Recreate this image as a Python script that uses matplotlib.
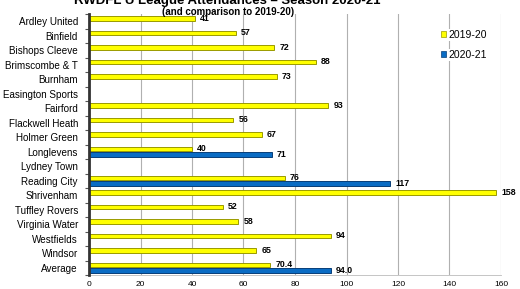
import matplotlib
matplotlib.use("Agg")
import matplotlib.pyplot as plt
import numpy as np
from matplotlib.patches import Patch

plt.rcParams['font.family'] = ['Liberation Sans', 'DejaVu Sans']

clubs = ["Ardley United", "Binfield", "Bishops Cleeve", "Brimscombe & T", "Burnham",
         "Easington Sports", "Fairford", "Flackwell Heath", "Holmer Green", "Longlevens",
         "Lydney Town", "Reading City", "Shrivenham", "Tuffley Rovers", "Virginia Water",
         "Westfields", "Windsor", "Average"]
season_1920 = [41, 57, 72, 88, 73, None, 93, 56, 67, 40, None, 76, 158, 52, 58, 94, 65, 70.4]
season_2021 = [None, None, None, None, None, None, None, None, None, 71, None, 117, None,
               None, None, None, None, 94.0]
xticks = [0, 20, 40, 60, 80, 100, 120, 140, 160]

fig = plt.figure(figsize=(5.2, 2.89), dpi=100)
ax = fig.add_axes([89/520, 1-275/289, (501-89)/520, (275-14)/289])

n = len(clubs)
y = np.arange(n)
h = 0.34
off_y, off_b = -0.19, 0.22

for i, v in enumerate(season_1920):
    if v is None:
        continue
    ax.barh(i + off_y, v, height=h, color='#FFFF00', edgecolor='#9A9A00', linewidth=0.7, zorder=3)
    lab = f"{v:.1f}" if i == n - 1 else f"{v:g}"
    ax.text(v + 2, i + off_y, lab, fontsize=6.3, fontweight='bold', va='center', ha='left', zorder=4)
for i, v in enumerate(season_2021):
    if v is None:
        continue
    ax.barh(i + off_b, v, height=h, color='#0A6CC4', edgecolor='#083E78', linewidth=0.7, zorder=3)
    lab = f"{v:.1f}" if i == n - 1 else f"{v:g}"
    ax.text(v + 2, i + off_b, lab, fontsize=6.3, fontweight='bold', va='center', ha='left', zorder=4)

ax.set_ylim(n - 0.5, -0.5)
ax.set_xlim(0, 160)
ax.set_xticks(xticks)
ax.set_xticklabels([str(t) for t in xticks], fontsize=6)
ax.set_yticks(y)
ax.set_yticklabels(clubs, fontsize=7.1)
ax.set_yticks(np.arange(n + 1) - 0.5, minor=True)
ax.tick_params(axis='y', which='major', length=0, pad=8)
ax.tick_params(axis='y', which='minor', length=3, width=0.8, color='#555555', direction='out')
ax.tick_params(axis='x', length=0, pad=4)
ax.grid(axis='x', color='#B0B0B0', linewidth=0.8, zorder=0)
ax.spines['top'].set_visible(False)
ax.spines['right'].set_visible(False)
ax.spines['bottom'].set_color('#BBBBBB')
ax.spines['bottom'].set_linewidth(0.6)
ax.spines['left'].set_color('#333333')
ax.spines['left'].set_linewidth(2)
ax.spines['left'].set_zorder(5)

handles = [Patch(facecolor='#FFFF00', edgecolor='#9A9A00', linewidth=0.5),
           Patch(facecolor='#0A6CC4', edgecolor='#083E78', linewidth=0.5)]
leg = fig.legend(handles, ['2019-20', '2020-21'], loc='upper left',
                 bbox_to_anchor=(441/520, 1-30/289), frameon=False, fontsize=7.5,
                 handlelength=0.5, handleheight=0.5, handletextpad=0.2, labelspacing=0.95,
                 borderpad=0, borderaxespad=0)
for t in leg.get_texts():
    t.set_bbox(dict(facecolor='white', edgecolor='none', pad=0.5))

fig.text(227/520, 1-1/289, "RWDFL U League Attendances \u2013 Season 2020-21", ha='center', va='center',
         fontsize=9.5, fontweight='bold')
fig.text(228/520, 1-12/289, "(and comparison to 2019-20)", ha='center', va='center',
         fontsize=7, fontweight='bold')

fig.savefig("out.png", dpi=100)
